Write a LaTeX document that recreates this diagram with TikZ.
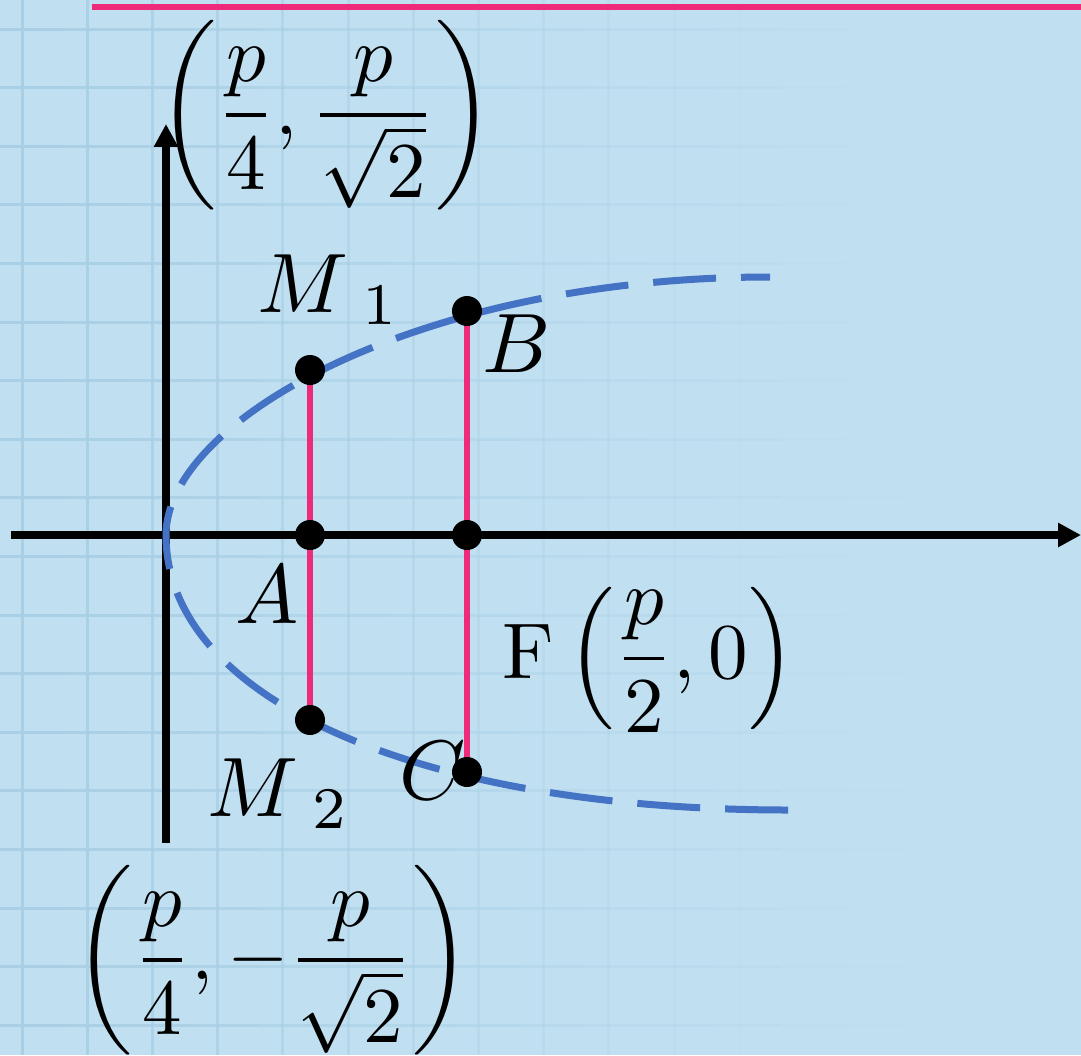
\documentclass[tikz,border=0pt]{standalone}
\usepackage{amsmath,amssymb}
\usepackage{tikz}
\usetikzlibrary{arrows.meta}
\usepackage{xcolor}

\definecolor{paper}{HTML}{C0DFF0}
\definecolor{gridblue}{HTML}{A8CFE5}
\definecolor{chordpink}{HTML}{EE2A7B}
\definecolor{curveblue}{HTML}{4472C4}

\begin{document}
\begin{tikzpicture}[
    x=0.02cm, y=-0.02cm,
    gridline/.style={draw=gridblue, line width=0.06cm},
    axis/.style={line width=0.15cm, -{Triangle[length=0.46cm, width=0.46cm]}},
    curve/.style={curveblue, line width=0.14cm, dash pattern=on 1.26cm off 0.5cm, dash phase=0.68cm},
    chord/.style={chordpink, line width=0.13cm},
    dot/.style={circle, fill=black, inner sep=0pt, minimum size=0.6cm},
    lbl/.style={inner sep=0pt, scale=4.8},
    biglbl/.style={inner sep=0pt, scale=4.5}
]
    % Background and grid, fading out to the right
    \useasboundingbox (0,0) rectangle (1081,1055);
    \clip (0,0) rectangle (1081,1055);
    \fill[paper] (0,0) rectangle (1081,1055);
    \foreach \gx in {22,87.2,...,760} {
        \pgfmathsetmacro\op{max(0,1-\gx/760)}
        \draw[gridline, opacity=\op] (\gx,0) -- (\gx,1055);
    }
    \foreach \gy in {29,87.6,...,1055}
        \foreach \sx in {0,65,...,845} {
            \pgfmathsetmacro\op{max(0,1-(\sx+32)/880)}
            \draw[gridline, opacity=\op] (\sx,\gy) -- (\sx+65,\gy);
        }

    % Points
    \coordinate (O) at (166,535);
    \coordinate (M1) at (310,370);
    \coordinate (A) at (310,535);
    \coordinate (M2) at (310,720);
    \coordinate (B) at (467,311);
    \coordinate (F) at (467,535);
    \coordinate (C) at (467,772);
    \coordinate (xs) at (11,535);
    \coordinate (xe) at (1081,535);
    \coordinate (ys) at (166,843);
    \coordinate (ye) at (166,124);
    \coordinate (topl) at (92,7);
    \coordinate (topr) at (1081,7);
    \coordinate (pu) at (770,277);
    \coordinate (pd) at (789,810);

    % Directrix line at the top
    \draw[chordpink, line width=0.11cm] (topl) -- (topr);

    % Axes
    \draw[axis] (xs) -- (xe);
    \draw[axis] (ys) -- (ye);

    % Parabola
    \draw[curve] (pu) .. controls (420,277) and (166,420) .. (O)
        .. controls (166,700) and (420,810) .. (pd);

    % Chords
    \draw[chord] (M1) -- (A) -- (M2);
    \draw[chord] (B) -- (F) -- (C);

    % Dots
    \foreach \p in {M1,A,M2,B,F,C}
        \node[dot] (dot\p) at (\p) {};

    % Labels
    \node[lbl, anchor=base west] (labM1) at (256,312) {$M\,{}_{1}$};
    \node[lbl, anchor=base west] (labB) at (481,372) {$B$};
    \node[lbl, anchor=base west] (labA) at (234,623) {$A$};
    \node[lbl, anchor=base west] (labM2) at (206,816) {$M\,{}_{2}$};
    \node[lbl, anchor=base west] (labC) at (398,799) {$C$};
    \node[biglbl, anchor=base west] (labF) at (501,678)
        {$\displaystyle \mathrm{F}\left(\frac{p}{2},0\right)$};
    \node[biglbl] (labtop) at (326,115)
        {$\displaystyle \left(\frac{p}{4},\frac{p}{\sqrt{2}}\right)$};
    \node[biglbl] (labbot) at (273,960)
        {$\displaystyle \left(\frac{p}{4},-\frac{p}{\sqrt{2}}\right)$};
\end{tikzpicture}
\end{document}
